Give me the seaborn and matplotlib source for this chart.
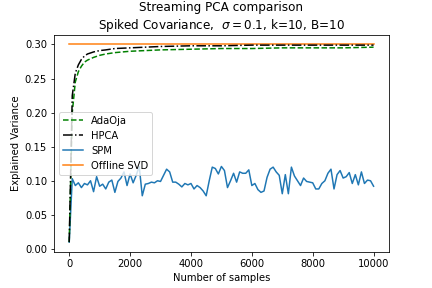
import numpy as np
import matplotlib
matplotlib.use('Agg')
import matplotlib.pyplot as plt
import seaborn as sns

# sample grid for the smooth curves
curve_x = [0, 100, 200, 300, 400, 500, 600, 800, 1000, 1200, 1500, 2000,
           2500, 3000, 4000, 5000, 6000, 7000, 8000, 9000, 10000]
adaoja = [0.010, 0.200, 0.245, 0.260, 0.268, 0.274, 0.277, 0.281, 0.284, 0.286,
          0.288, 0.290, 0.291, 0.292, 0.293, 0.294, 0.294, 0.295, 0.295, 0.295, 0.296]
hpca = [0.010, 0.225, 0.258, 0.270, 0.278, 0.283, 0.286, 0.289, 0.291, 0.292,
        0.294, 0.295, 0.296, 0.297, 0.298, 0.298, 0.299, 0.299, 0.299, 0.299, 0.299]

svd_x = [0, 10000]
offline_svd = [0.300, 0.300]

# SPM, one value every 100 samples
spm_x = list(range(0, 10001, 100))
spm = [0.010, 0.103, 0.093, 0.097, 0.090, 0.096, 0.094, 0.100, 0.084, 0.106,
       0.092, 0.095, 0.088, 0.098, 0.101, 0.083, 0.099, 0.104, 0.113, 0.093,
       0.110, 0.097, 0.108, 0.121, 0.078, 0.095, 0.096, 0.098, 0.097, 0.100,
       0.099, 0.108, 0.117, 0.113, 0.098, 0.098, 0.095, 0.091, 0.096, 0.094,
       0.096, 0.088, 0.093, 0.090, 0.085, 0.078, 0.100, 0.120, 0.118, 0.110,
       0.121, 0.115, 0.090, 0.100, 0.111, 0.098, 0.113, 0.111, 0.111, 0.116,
       0.093, 0.096, 0.087, 0.083, 0.085, 0.105, 0.117, 0.120, 0.113, 0.108,
       0.081, 0.109, 0.081, 0.120, 0.107, 0.100, 0.093, 0.104, 0.099, 0.098,
       0.097, 0.088, 0.088, 0.096, 0.100, 0.111, 0.117, 0.088, 0.109, 0.115,
       0.104, 0.106, 0.112, 0.096, 0.109, 0.094, 0.113, 0.096, 0.101, 0.100,
       0.092]

fig, ax = plt.subplots(figsize=(6, 4), dpi=72)
fig.subplots_adjust(bottom=0.125, top=0.88)

sns.lineplot(x=curve_x, y=adaoja, ax=ax, color='g', linestyle='--', label='AdaOja', zorder=3)
sns.lineplot(x=curve_x, y=hpca, ax=ax, color='k', linestyle='-.', label='HPCA', zorder=3)
sns.lineplot(x=spm_x, y=spm, ax=ax, color='C0', label='SPM')
sns.lineplot(x=svd_x, y=offline_svd, ax=ax, color='C1', label='Offline SVD')

ax.set_title('Streaming PCA comparison\nSpiked Covariance,  $\\sigma=0.1$, k=10, B=10')
ax.set_xlabel('Number of samples')
ax.set_ylabel('Explained Variance')
ax.legend(loc='center left')

fig.savefig('out.png', dpi=72)
